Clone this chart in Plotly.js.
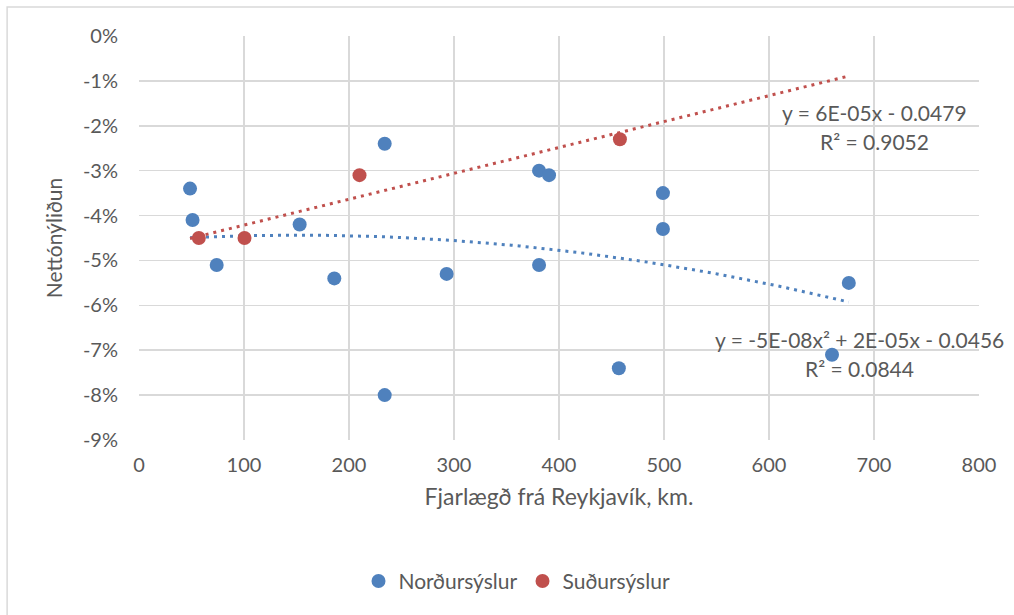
<!DOCTYPE html>
<html>
<head>
<meta charset="utf-8">
<script src="https://cdn.plot.ly/plotly-3.0.1.min.js"></script>
<style>
  html, body { margin: 0; padding: 0; background: #ffffff; }
  #chart { width: 1014px; height: 615px; }
</style>
</head>
<body>
<div id="chart"></div>
<script>
// ---- data ----
const nordurName = "Norðursýslur";
const sudurName = "Suðursýslur";

const nordurX = [48.6, 51, 74, 153, 186, 234, 234, 293, 381, 390.5, 381, 457, 499, 499, 660, 676];
const nordurY = [-0.034, -0.041, -0.051, -0.042, -0.054, -0.024, -0.080, -0.053, -0.030, -0.031, -0.051, -0.074, -0.035, -0.043, -0.071, -0.055];

const sudurX = [57, 100.5, 210, 458];
const sudurY = [-0.045, -0.045, -0.031, -0.023];

const yTickVals = [0, -0.01, -0.02, -0.03, -0.04, -0.05, -0.06, -0.07, -0.08, -0.09];
const xTickVals = [0, 100, 200, 300, 400, 500, 600, 700, 800];

const eqSudur = ["y = 6E-05x - 0.0479", "R² = 0.9052"];
const eqNordur = ["y = -5E-08x² + 2E-05x - 0.0456", "R² = 0.0844"];

// ---- least squares fits (trendlines computed from the data) ----
function polyFit(xs, ys, deg) {
  const n = deg + 1;
  const A = [];
  for (let i = 0; i < n; i++) A.push(new Array(n + 1).fill(0));
  for (let k = 0; k < xs.length; k++) {
    for (let i = 0; i < n; i++) {
      for (let j = 0; j < n; j++) A[i][j] += Math.pow(xs[k], i + j);
      A[i][n] += ys[k] * Math.pow(xs[k], i);
    }
  }
  for (let i = 0; i < n; i++) {
    let p = i;
    for (let r = i + 1; r < n; r++) if (Math.abs(A[r][i]) > Math.abs(A[p][i])) p = r;
    [A[i], A[p]] = [A[p], A[i]];
    for (let r = 0; r < n; r++) {
      if (r === i) continue;
      const f = A[r][i] / A[i][i];
      for (let c = i; c <= n; c++) A[r][c] -= f * A[i][c];
    }
  }
  return A.map((row, i) => row[n] / row[i]);
}
function evalPoly(c, x) { return c.reduce((s, ci, i) => s + ci * Math.pow(x, i), 0); }

const allX = nordurX.concat(sudurX);
const xMin = Math.min(...allX), xMax = Math.max(...allX);
const lineX = [];
for (let i = 0; i <= 80; i++) lineX.push(xMin + (xMax - xMin) * i / 80);

const cN = polyFit(nordurX, nordurY, 2);
const cS = polyFit(sudurX, sudurY, 1);

const BLUE = "#4F81BD", RED = "#C0504D", TEXT = "#595959", GRID = "#D9D9D9";
const FONT = "Lato, 'Open Sans', sans-serif";

const traces = [
  {
    x: lineX, y: lineX.map(x => evalPoly(cN, x)), type: "scatter", mode: "lines",
    line: { color: BLUE, width: 3, dash: "3px,5px" }, showlegend: false, hoverinfo: "skip"
  },
  {
    x: lineX, y: lineX.map(x => evalPoly(cS, x)), type: "scatter", mode: "lines",
    line: { color: RED, width: 3, dash: "3px,5px" }, showlegend: false, hoverinfo: "skip"
  },
  {
    x: nordurX, y: nordurY, type: "scatter", mode: "markers", name: nordurName,
    marker: { color: BLUE, size: 14 }
  },
  {
    x: sudurX, y: sudurY, type: "scatter", mode: "markers", name: sudurName,
    marker: { color: RED, size: 14 }
  }
];

const layout = {
  width: 1014, height: 615,
  margin: { l: 139, r: 35, t: 36, b: 175 },
  paper_bgcolor: "#ffffff", plot_bgcolor: "#ffffff",
  font: { family: FONT, color: TEXT, size: 20 },
  showlegend: true,
  legend: {
    orientation: "h", x: 0.45, xanchor: "center", y: -0.35, yanchor: "middle",
    font: { size: 21, color: TEXT }, itemsizing: "trace", traceorder: "normal"
  },
  xaxis: {
    range: [0, 800], tickvals: xTickVals, ticktext: xTickVals.map(String),
    showgrid: true, gridcolor: GRID, gridwidth: 1.5,
    zeroline: false, showline: false, ticks: "", ticklabelstandoff: 11,
    tickfont: { size: 20, color: TEXT },
    title: { text: "Fjarlægð frá Reykjavík, km.", font: { size: 23, color: TEXT }, standoff: 13 },
    fixedrange: true
  },
  yaxis: {
    range: [-0.09, 0], tickvals: yTickVals, ticktext: yTickVals.map(v => Math.round(v * 100) + "%"),
    showgrid: true, gridcolor: GRID, gridwidth: 1.5,
    zeroline: false, showline: false, ticks: "", ticklabelstandoff: 20,
    tickfont: { size: 20, color: TEXT },
    title: { text: "Nettónýliðun", font: { size: 21, color: TEXT }, standoff: 14 },
    fixedrange: true
  },
  annotations: [
    { xref: "x", yref: "y", x: 700, y: -0.0171, text: eqSudur[0], showarrow: false, xanchor: "center", yanchor: "middle", font: { size: 21, color: TEXT } },
    { xref: "x", yref: "y", x: 700, y: -0.0235, text: eqSudur[1], showarrow: false, xanchor: "center", yanchor: "middle", font: { size: 21, color: TEXT } },
    { xref: "x", yref: "y", x: 686, y: -0.0676, text: eqNordur[0], showarrow: false, xanchor: "center", yanchor: "middle", font: { size: 21, color: TEXT } },
    { xref: "x", yref: "y", x: 686, y: -0.0740, text: eqNordur[1], showarrow: false, xanchor: "center", yanchor: "middle", font: { size: 21, color: TEXT } }
  ],
  shapes: [
    { type: "rect", xref: "paper", yref: "paper", x0: -0.157, x1: 1.2, y0: -0.5, y1: 1.0718,
      line: { color: GRID, width: 1.5 }, fillcolor: "rgba(0,0,0,0)", layer: "below" }
  ]
};

Plotly.newPlot("chart", traces, layout, { staticPlot: true, displayModeBar: false });
</script>
</body>
</html>
